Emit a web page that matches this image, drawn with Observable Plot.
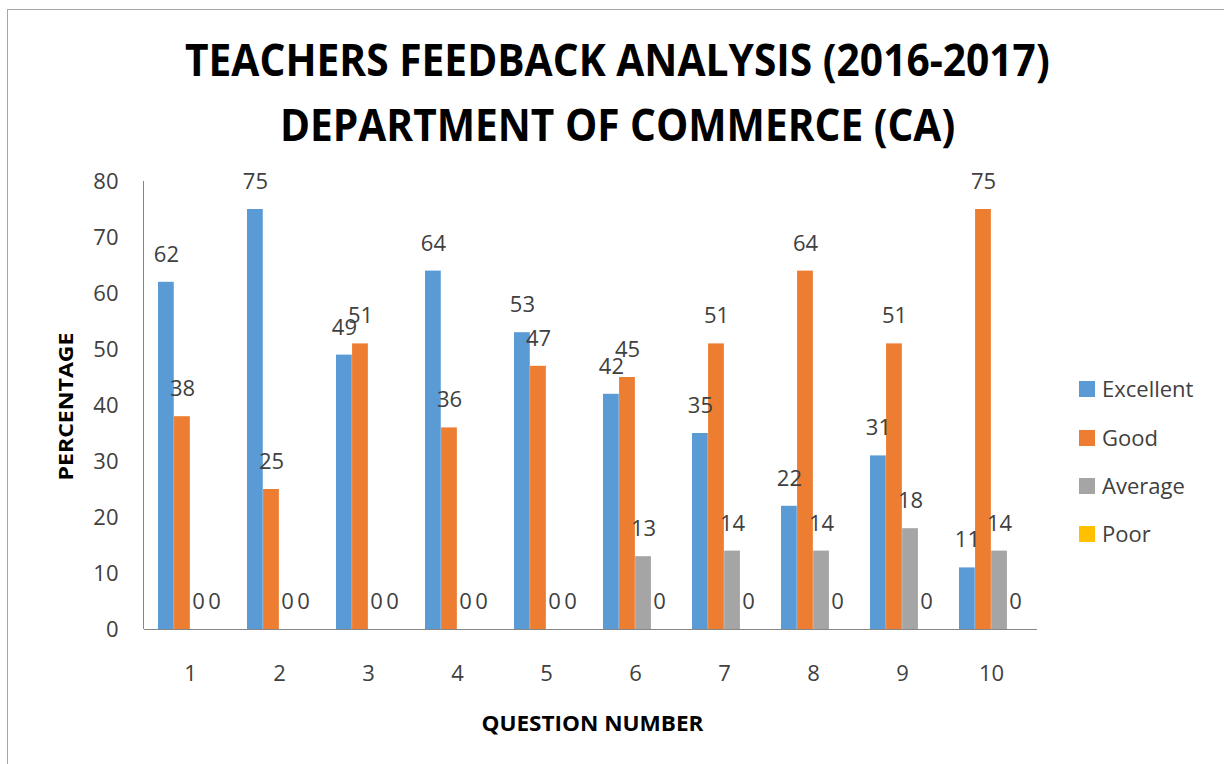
<!DOCTYPE html>
<html>
<head>
<meta charset="utf-8">
<script src="https://cdn.jsdelivr.net/npm/d3@7"></script>
<script src="https://cdn.jsdelivr.net/npm/@observablehq/plot@0.6"></script>
<style>
  html, body { margin: 0; padding: 0; background: #fff; }
  body { width: 1224px; height: 764px; position: relative; overflow: hidden; font-family: "Open Sans", sans-serif; }
  #frame { position: absolute; left: 7px; top: 9px; width: 1300px; height: 900px; border-top: 1px solid #a6a6a6; border-left: 1px solid #a6a6a6; }
  .tline { position: absolute; white-space: nowrap; display: inline-block; font: bold 44px "Open Sans"; line-height: 65px; color: #000; transform-origin: 0 0; }
  #chart { position: absolute; left: 0; top: 150px; }
  .lg-sw { position: absolute; width: 16px; height: 16px; }
  .lg-tx { position: absolute; font: 22px "Open Sans"; line-height: 22px; color: #404040; white-space: nowrap; }
</style>
</head>
<body>
<div id="frame"></div>
<span class="tline" id="t1">TEACHERS FEEDBACK ANALYSIS (2016-2017)</span>
<span class="tline" id="t2">DEPARTMENT OF COMMERCE (CA)</span>
<div id="chart"></div>
<div id="legend"></div>
<script>
// ---- data ----
const questions = ["1", "2", "3", "4", "5", "6", "7", "8", "9", "10"];
const excellent = [62, 75, 49, 64, 53, 42, 35, 22, 31, 11];
const good      = [38, 25, 51, 36, 47, 45, 51, 64, 51, 75];
const average   = [0, 0, 0, 0, 0, 13, 14, 14, 18, 14];
const poor      = [0, 0, 0, 0, 0, 0, 0, 0, 0, 0];
const seriesNames = ["Excellent", "Good", "Average", "Poor"];
const seriesColors = ["#5B9BD5", "#ED7D31", "#A5A5A5", "#FFC000"];
const yTicks = [0, 10, 20, 30, 40, 50, 60, 70, 80];
const titleLines = ["TEACHERS FEEDBACK ANALYSIS (2016-2017)", "DEPARTMENT OF COMMERCE (CA)"];
const xTitle = "QUESTION NUMBER";
const yTitle = "PERCENTAGE";

const seriesValues = [excellent, good, average, poor];
const rows = questions.map((q, i) => {
  const r = {q};
  seriesNames.forEach((s, j) => r[s] = seriesValues[j][i]);
  return r;
});

// ---- title ----
function fitTitle(id, text, center, target, top) {
  const el = document.getElementById(id);
  el.textContent = text;
  const w = el.offsetWidth;
  el.style.left = (center - target / 2) + "px";
  el.style.top = top + "px";
  el.style.transform = `scaleX(${target / w})`;
}
fitTitle("t1", titleLines[0], 617.5, 865, 27.4);
fitTitle("t2", titleLines[1], 617.5, 675, 92.4);

// ---- chart ----
const W = 1224, H = 614;
const mL = 144, mR = 187, mT = 31, mB = 135;
const pInner = 0.28, pOuter = 0.14;
const step = (W - mL - mR) / (questions.length - pInner + 2 * pOuter);
const bw = step * (1 - pInner);
const sub = bw / seriesNames.length;

const marks = [];
seriesNames.forEach((s, j) => {
  marks.push(Plot.barY(rows, {
    x: "q", y: s, fill: seriesColors[j],
    insetLeft: sub * j, insetRight: bw - sub * (j + 1)
  }));
});
marks.push(Plot.ruleY([0], {stroke: "#868686", strokeWidth: 1}));
seriesNames.forEach((s, j) => {
  marks.push(Plot.text(rows, {
    x: "q", y: s, text: d => String(d[s]),
    dx: -bw / 2 + sub * (j + 0.5), dy: -27.5,
    fill: "#404040", fontSize: 22
  }));
});
marks.push(Plot.text([xTitle], {
  frameAnchor: "bottom", lineAnchor: "middle", textAnchor: "middle", dy: 95, dx: 1.5,
  text: d => d, fontWeight: "bold", fontSize: 21, fill: "#000"
}));
marks.push(Plot.text([yTitle], {
  frameAnchor: "left", lineAnchor: "middle", textAnchor: "middle", dx: -78, dy: 1,
  rotate: -90, text: d => d, fontWeight: "bold", fontSize: 20, fill: "#000"
}));

const chart = Plot.plot({
  width: W, height: H,
  marginLeft: mL, marginRight: mR, marginTop: mT, marginBottom: mB,
  style: {fontFamily: "Open Sans", fontSize: "22px", color: "#404040", background: "transparent", overflow: "visible"},
  x: {type: "band", domain: questions, paddingInner: pInner, paddingOuter: pOuter, label: null, tickSize: 0, tickPadding: 36},
  y: {domain: [0, 80], ticks: yTicks, tickSize: 0, tickPadding: 26, label: null},
  marks
});
document.getElementById("chart").appendChild(chart);

// left axis line, from the y scale range
const yr = chart.scale("y").range;
d3.select(chart).append("line")
  .attr("x1", mL - 0.5).attr("x2", mL - 0.5)
  .attr("y1", yr[0]).attr("y2", yr[1])
  .attr("stroke", "#868686").attr("stroke-width", 1);

d3.select(chart).selectAll("text").filter(function() { return this.textContent === xTitle; })
  .attr("textLength", 222).attr("lengthAdjust", "spacingAndGlyphs");
d3.select(chart).selectAll("text").filter(function() { return this.textContent === yTitle; })
  .attr("textLength", 148).attr("lengthAdjust", "spacingAndGlyphs");

// ---- legend ----
const legend = document.getElementById("legend");
const legendY = [388.5, 437.5, 486, 534];
seriesNames.forEach((s, j) => {
  const sw = document.createElement("div");
  sw.className = "lg-sw";
  sw.style.background = seriesColors[j];
  sw.style.left = "1079px";
  sw.style.top = (legendY[j] - 8) + "px";
  legend.appendChild(sw);
  const tx = document.createElement("div");
  tx.className = "lg-tx";
  tx.textContent = s;
  tx.style.left = "1102px";
  tx.style.top = (legendY[j] - 11.7) + "px";
  legend.appendChild(tx);
});
</script>
</body>
</html>
